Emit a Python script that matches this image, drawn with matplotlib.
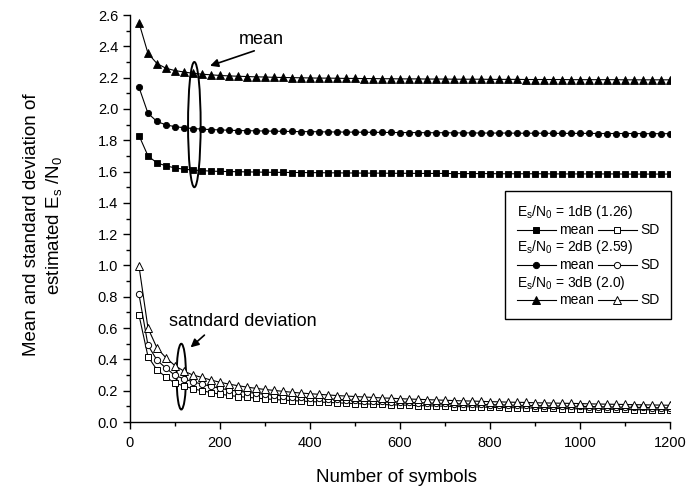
import matplotlib
matplotlib.use("Agg")
import matplotlib.pyplot as plt
from matplotlib.patches import Ellipse
from matplotlib.lines import Line2D
from matplotlib.offsetbox import AnchoredOffsetbox, VPacker, HPacker, TextArea, DrawingArea
from matplotlib.ticker import MultipleLocator

plt.rcParams['font.family'] = ['Liberation Sans', 'DejaVu Sans']
plt.rcParams['mathtext.fontset'] = 'custom'
plt.rcParams['mathtext.rm'] = 'Liberation Sans'

# number of symbols
n_symbols = [20, 40, 60, 80, 100, 120, 140, 160, 180, 200,
             220, 240, 260, 280, 300, 320, 340, 360, 380, 400,
             420, 440, 460, 480, 500, 520, 540, 560, 580, 600,
             620, 640, 660, 680, 700, 720, 740, 760, 780, 800,
             820, 840, 860, 880, 900, 920, 940, 960, 980, 1000,
             1020, 1040, 1060, 1080, 1100, 1120, 1140, 1160, 1180, 1200]

# mean of estimated Es/N0
mean_1db = [1.830, 1.700, 1.655, 1.637, 1.623, 1.615, 1.610, 1.606, 1.603, 1.601,
            1.600, 1.599, 1.598, 1.597, 1.596, 1.595, 1.595, 1.594, 1.594, 1.593,
            1.593, 1.592, 1.592, 1.591, 1.591, 1.590, 1.590, 1.590, 1.589, 1.589,
            1.589, 1.588, 1.588, 1.588, 1.588, 1.587, 1.587, 1.587, 1.587, 1.587,
            1.586, 1.586, 1.586, 1.586, 1.586, 1.586, 1.585, 1.585, 1.585, 1.585,
            1.585, 1.585, 1.585, 1.585, 1.584, 1.584, 1.584, 1.584, 1.584, 1.584]
mean_2db = [2.138, 1.972, 1.920, 1.898, 1.887, 1.880, 1.875, 1.871, 1.868, 1.866,
            1.864, 1.862, 1.861, 1.860, 1.859, 1.858, 1.857, 1.856, 1.855, 1.855,
            1.854, 1.853, 1.853, 1.852, 1.852, 1.851, 1.851, 1.850, 1.850, 1.849,
            1.849, 1.849, 1.848, 1.848, 1.848, 1.847, 1.847, 1.847, 1.846, 1.846,
            1.846, 1.846, 1.845, 1.845, 1.845, 1.845, 1.844, 1.844, 1.844, 1.844,
            1.844, 1.843, 1.843, 1.843, 1.843, 1.843, 1.842, 1.842, 1.842, 1.842]
mean_3db = [2.550, 2.355, 2.290, 2.260, 2.245, 2.236, 2.228, 2.222, 2.218, 2.214,
            2.211, 2.209, 2.207, 2.205, 2.204, 2.202, 2.201, 2.200, 2.199, 2.198,
            2.197, 2.197, 2.196, 2.195, 2.195, 2.194, 2.194, 2.193, 2.193, 2.192,
            2.192, 2.192, 2.191, 2.191, 2.191, 2.190, 2.190, 2.190, 2.190, 2.189,
            2.189, 2.189, 2.189, 2.188, 2.188, 2.188, 2.188, 2.188, 2.187, 2.187,
            2.187, 2.187, 2.187, 2.187, 2.186, 2.186, 2.186, 2.186, 2.186, 2.186]

# standard deviation of estimated Es/N0
sd_1db = [0.683, 0.418, 0.333, 0.287, 0.248, 0.231, 0.212, 0.200, 0.188, 0.178,
          0.170, 0.163, 0.158, 0.153, 0.148, 0.144, 0.140, 0.137, 0.134, 0.131,
          0.128, 0.125, 0.123, 0.120, 0.118, 0.116, 0.114, 0.112, 0.110, 0.109,
          0.107, 0.105, 0.104, 0.102, 0.101, 0.099, 0.098, 0.097, 0.096, 0.094,
          0.093, 0.092, 0.091, 0.090, 0.089, 0.088, 0.087, 0.086, 0.085, 0.084,
          0.083, 0.082, 0.082, 0.081, 0.080, 0.079, 0.078, 0.078, 0.077, 0.076]
sd_2db = [0.815, 0.490, 0.395, 0.344, 0.298, 0.275, 0.257, 0.242, 0.228, 0.215,
          0.205, 0.197, 0.190, 0.183, 0.177, 0.172, 0.167, 0.163, 0.159, 0.155,
          0.151, 0.148, 0.145, 0.142, 0.139, 0.137, 0.134, 0.132, 0.130, 0.128,
          0.126, 0.124, 0.122, 0.120, 0.119, 0.117, 0.116, 0.114, 0.113, 0.111,
          0.110, 0.109, 0.107, 0.106, 0.105, 0.104, 0.103, 0.102, 0.101, 0.100,
          0.099, 0.098, 0.097, 0.096, 0.095, 0.094, 0.093, 0.092, 0.091, 0.090]
sd_3db = [0.995, 0.600, 0.473, 0.410, 0.360, 0.325, 0.300, 0.285, 0.268, 0.254,
          0.242, 0.232, 0.223, 0.215, 0.208, 0.202, 0.196, 0.190, 0.185, 0.181,
          0.177, 0.173, 0.169, 0.166, 0.163, 0.160, 0.157, 0.154, 0.152, 0.149,
          0.147, 0.145, 0.143, 0.141, 0.139, 0.137, 0.135, 0.134, 0.132, 0.130,
          0.129, 0.127, 0.126, 0.125, 0.123, 0.122, 0.121, 0.120, 0.119, 0.118,
          0.116, 0.115, 0.114, 0.113, 0.112, 0.111, 0.110, 0.109, 0.108, 0.107]

legend_titles = [r'E$_\mathregular{s}$/N$_\mathregular{0}$ = 1dB (1.26)',
                 r'E$_\mathregular{s}$/N$_\mathregular{0}$ = 2dB (2.59)',
                 r'E$_\mathregular{s}$/N$_\mathregular{0}$ = 3dB (2.0)']
markers = ['s', 'o', '^']
msizes = [4.0, 4.5, 5.5]

fig = plt.figure(figsize=(6.9, 4.88), dpi=100)
ax = fig.add_axes([0.1884, 0.1352, 0.7826, 0.834])

for ys, m, ms in zip([mean_1db, mean_2db, mean_3db], markers, msizes):
    ax.plot(n_symbols, ys, color='k', lw=0.8, marker=m, ms=ms, mfc='k', mec='k', mew=0.6)
for ys, m, ms in zip([sd_1db, sd_2db, sd_3db], markers, msizes):
    ax.plot(n_symbols, ys, color='k', lw=0.8, marker=m, ms=ms, mfc='w', mec='k', mew=0.7)

ax.set_xlim(0, 1200)
ax.set_ylim(0, 2.6)
ax.xaxis.set_major_locator(MultipleLocator(200))
ax.xaxis.set_minor_locator(MultipleLocator(100))
ax.yaxis.set_major_locator(MultipleLocator(0.2))
ax.yaxis.set_minor_locator(MultipleLocator(0.1))
ax.yaxis.set_major_formatter(matplotlib.ticker.FormatStrFormatter('%.1f'))
ax.tick_params(which='major', direction='out', length=5, width=1, labelsize=10.5)
ax.tick_params(axis='x', which='major', pad=5)
ax.tick_params(which='minor', direction='out', length=3, width=1)
for s in ['top', 'right']:
    ax.spines[s].set_visible(False)
for s in ['left', 'bottom']:
    ax.spines[s].set_linewidth(1)

ax.set_xlabel('Number of symbols', fontsize=13.5)
ax.xaxis.set_label_coords(0.493, -0.115)
ax.set_ylabel('Mean and standard deviation of\n' + r'estimated E$_\mathregular{s}$ /N$_\mathregular{0}$',
              fontsize=13.5, linespacing=1.35)
ax.yaxis.set_label_coords(-0.12, 0.484)

# annotations
ax.add_patch(Ellipse((143, 1.90), 28, 0.80, fill=False, ec='k', lw=1.4))
ax.add_patch(Ellipse((114, 0.29), 21, 0.42, fill=False, ec='k', lw=1.4))
ax.text(291, 2.445, 'mean', fontsize=13, ha='center', va='center')
ax.annotate('', xy=(172, 2.27), xytext=(282, 2.377),
            arrowprops=dict(arrowstyle='-|>', color='k', lw=1.2, mutation_scale=12))
ax.text(250, 0.645, 'satndard deviation', fontsize=13, ha='center', va='center')
ax.annotate('', xy=(130, 0.465), xytext=(170, 0.567),
            arrowprops=dict(arrowstyle='-|>', color='k', lw=1.2, mutation_scale=12))


# custom legend
def handle(marker, filled, ms):
    da = DrawingArea(28, 8, 0, 0)
    da.add_artist(Line2D([0, 28], [4, 4], color='k', lw=0.8))
    da.add_artist(Line2D([14], [4], marker=marker, ms=ms, color='k',
                         mfc='k' if filled else 'w', mec='k', mew=0.7))
    return da


rows = []
for title, m, ms in zip(legend_titles, markers, msizes):
    rows.append(TextArea(title, textprops=dict(fontsize=10)))
    rows.append(HPacker(children=[handle(m, True, ms), TextArea('mean', textprops=dict(fontsize=10)),
                                  handle(m, False, ms), TextArea('SD', textprops=dict(fontsize=10))],
                        sep=2.5, align='center'))
box = VPacker(children=rows, sep=1.2, align='left')
leg = AnchoredOffsetbox(loc='upper right', child=box, pad=0.85, borderpad=0, frameon=True,
                        bbox_to_anchor=(1.002, 0.567), bbox_transform=ax.transAxes)
leg.patch.set_linewidth(1)
leg.patch.set_edgecolor('k')
ax.add_artist(leg)

fig.savefig('out.png', dpi=100)
